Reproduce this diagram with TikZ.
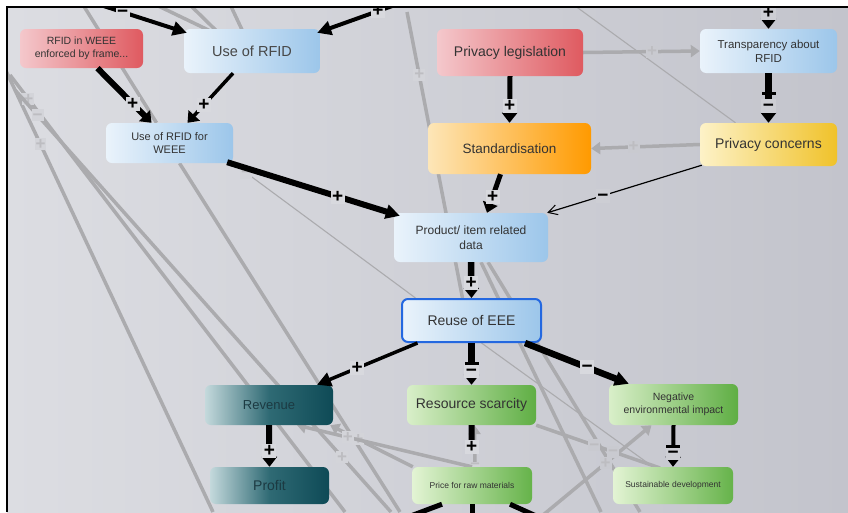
\documentclass[tikz,border=0pt]{standalone}
\usepackage{fontspec}
\setmainfont{Liberation Sans}
\usetikzlibrary{arrows.meta}
\pgfdeclarelayer{back}
\pgfdeclarelayer{lines}
\pgfsetlayers{back,lines,main}
\definecolor{bgL}{HTML}{DCDDE2}
\definecolor{bgR}{HTML}{C3C4CC}
\definecolor{gl}{HTML}{ABABAE}
\definecolor{txt}{HTML}{333333}
\definecolor{rL}{HTML}{F4C8CC}
\definecolor{rR}{HTML}{DF5A60}
\definecolor{bL}{HTML}{EAF3FB}
\definecolor{bR}{HTML}{9CC6EA}
\definecolor{oL}{HTML}{FDE6B8}
\definecolor{oR}{HTML}{FF9A00}
\definecolor{yL}{HTML}{FDF2C8}
\definecolor{yR}{HTML}{F0C22A}
\definecolor{tL}{HTML}{C4D9DC}
\definecolor{tM}{HTML}{2F6A74}
\definecolor{tR}{HTML}{0E4A56}
\definecolor{tT}{HTML}{1C3A42}
\definecolor{gL}{HTML}{D9EFC9}
\definecolor{gR}{HTML}{5FAE44}
\definecolor{hL}{HTML}{E3F4D4}
\definecolor{hR}{HTML}{66B34A}
\definecolor{reB}{HTML}{2468E0}
\definecolor{lf}{HTML}{D8D9DE}
\definecolor{lfR}{HTML}{CDCED4}
\definecolor{glf}{HTML}{D3D4D9}
\definecolor{glfR}{HTML}{C9CAD0}
\definecolor{gt}{HTML}{BDBDC1}
\begin{document}
\begin{tikzpicture}[x=1pt,y=-1pt,
  box/.style={rounded corners=6pt, inner sep=0pt, align=center, text=txt},
  nred/.style={left color=rL, right color=rR},
  nblue/.style={left color=bL, right color=bR},
  norange/.style={left color=oL, right color=oR},
  nyellow/.style={left color=yL, right color=yR},
  nteal/.style={left color=tL, right color=tR, middle color=tM, text=tT},
  ngreen/.style={left color=gL, right color=gR},
  ngreenl/.style={left color=hL, right color=hR},
  conn/.style={line width=#1, black},
  tipb/.style={-{Triangle[width=15pt,length=10pt]}},
  tipd/.style={-{Triangle[width=14pt,length=14pt]}},
  lbl/.style={fill=lf, inner sep=1.5pt, text height=11pt, text depth=0pt, text=black, font=\fontsize{19}{19}\selectfont\bfseries},
  glbl/.style={fill=glf, inner sep=1pt, text height=10pt, text depth=0pt, text=gt, font=\fontsize{17}{17}\selectfont\bfseries},
  gline/.style={gl, line width=3.5pt},
  gthin/.style={gl, line width=1.1pt},
  tipg/.style={-{Triangle[width=12pt,length=9pt]}},
  barmark/.style={fill=black, minimum width=14pt, minimum height=3pt, inner sep=0pt}
]
\useasboundingbox (0,0) rectangle (848,512);

% ---------- nodes ----------
\node[box, nred, minimum width=123pt, minimum height=39pt, font=\fontsize{10.5}{13.5}\selectfont] (rfidw) at (81.5,48.5) {RFID in WEEE\\enforced by frame...};
\node[box, nblue, minimum width=136pt, minimum height=44pt, font=\fontsize{14.5}{16}\selectfont, text=txt!90] (use) at (252,51) {Use of RFID};
\node[box, nred, minimum width=146pt, minimum height=47pt, font=\fontsize{14}{16}\selectfont] (plegis) at (510,52.5) {Privacy legislation};
\node[box, nblue, minimum width=137pt, minimum height=44pt, font=\fontsize{11.5}{14}\selectfont] (transp) at (768.5,51) {Transparency about\\RFID};
\node[box, nblue, minimum width=127pt, minimum height=40pt, font=\fontsize{11}{13.5}\selectfont] (usew) at (169.5,143) {Use of RFID for\\WEEE};
\node[box, norange, minimum width=163pt, minimum height=51pt, font=\fontsize{13.5}{16}\selectfont] (stand) at (509.5,148.5) {Standardisation};
\node[box, nyellow, minimum width=137pt, minimum height=43pt, font=\fontsize{14}{16}\selectfont] (pconc) at (768.5,144.5) {Privacy concerns};
\node[box, nblue, minimum width=154pt, minimum height=49pt, font=\fontsize{12}{15}\selectfont] (prod) at (471,237.5) {Product/ item related\\data};
\node[box, nblue, draw=reB, line width=2pt, minimum width=139pt, minimum height=43pt, font=\fontsize{14}{16}\selectfont] (reuse) at (471.5,320.5) {Reuse of EEE};
\node[box, nteal, minimum width=128pt, minimum height=40pt, font=\fontsize{13}{16}\selectfont] (rev) at (269,405) {Revenue};
\node[box, ngreen, minimum width=129pt, minimum height=40pt, font=\fontsize{14}{16}\selectfont] (res) at (471.5,405) {Resource scarcity};
\node[box, ngreen, minimum width=129pt, minimum height=41pt, font=\fontsize{10.5}{13}\selectfont] (neg) at (673.5,404.5) {Negative\\environmental impact};
\node[box, nteal, minimum width=119pt, minimum height=37pt, font=\fontsize{14}{16}\selectfont] (profit) at (269.5,485.5) {Profit};
\node[box, ngreenl, minimum width=120pt, minimum height=37pt, font=\fontsize{8.5}{10}\selectfont] (price) at (472,485.5) {Price for raw materials};
\node[box, ngreenl, minimum width=120pt, minimum height=37pt, font=\fontsize{8.5}{10}\selectfont] (sust) at (673,485.5) {Sustainable development};

% ---------- free ends ----------
\coordinate (tlin) at (85,0);
\coordinate (trin) at (395,5);
\coordinate (ttop) at (768.5,0);
\coordinate (bl1) at (400,520);
\coordinate (bl2) at (472,530);
\coordinate (bl3) at (545,520);
\coordinate (ga) at (0,58);
\coordinate (gaE) at (213,512);
\coordinate (gb) at (10,75);
\coordinate (gbE) at (345,512);
\coordinate (gc) at (15,90);
\coordinate (gcE) at (391,512);
\coordinate (gdE) at (400,512);
\coordinate (t1) at (80,0);
\coordinate (t2) at (150,2);
\coordinate (t3) at (185,0);
\coordinate (t4) at (228,0);
\coordinate (v1) at (407,12);
\coordinate (v2E) at (601,512);
\coordinate (v3E) at (640,512);
\coordinate (th3) at (567,0);
\coordinate (gn) at (537,520);
\coordinate (grE) at (660,468);

% ---------- background ----------
\begin{pgfonlayer}{back}
\fill[white] (0,0) rectangle (848,512);
\shade[left color=bgL, right color=bgR] (7,7) rectangle (848,512);
\end{pgfonlayer}

% ---------- grey links ----------
\begin{pgfonlayer}{lines}
\begin{scope}
\clip (7,7) rectangle (848,512);
\draw[gline] (ga) -- (gaE) node[glbl,pos=0.19]{+};
\draw[gline] (gb) -- (gbE) node[glbl,pos=0.055]{+};
\draw[gline] (gc) -- (gcE) node[glbl,pos=0.06]{−} node[glbl,pos=0.87]{+};
\draw[gline] ([xshift=10pt]usew.south) -- (gdE);
\draw[gline] (t1) -- ([xshift=-13pt]usew.north);
\draw[gline] (t2) -- (use.center);
\draw[gline] (t3) -- ([xshift=-15pt]use.center);
\draw[gline] (t4) -- (use.center);
\draw[gthin] (usew.south east) -- ([xshift=-56pt]reuse.north) node[glbl,pos=0.07]{−};
\draw[gline] (v1) -- ([xshift=-9pt]reuse.north) node[glbl,pos=0.22]{+};
\draw[gline] ([xshift=10pt]prod.south) -- (v2E);
\draw[gline] ([xshift=17pt]prod.south) -- (v3E);
\draw[gthin] ([xshift=10pt]reuse.south) -- ([xshift=-20pt]sust.north);
\draw[gthin] (th3) -- ([xshift=-33pt]pconc.north);
\draw[gline, tipg] (plegis.east) -- (transp.west) node[glbl,fill=glfR,pos=0.59]{+};
\draw[gline, tipg] (pconc.west) -- (stand.east) node[glbl,fill=glfR,pos=0.61]{+};
\draw[gline, tipg] (gn) -- ([xshift=-22pt]neg.south) node[glbl,fill=glfR,pos=0.6]{+};
\draw[gline] (res.south east) -- (grE) node[glbl,fill=glfR,pos=0.47]{−} node[glbl,fill=glfR,pos=0.62]{−};
\draw[gline, tipg] ([xshift=3pt]price.north) -- ([xshift=3pt]res.south) node[glbl,inner sep=0pt,text height=7pt,pos=0.02]{−};
\draw[gline, tipg] ([xshift=1pt]price.north west) -- ([xshift=-3pt]rev.south east) node[glbl,pos=0.66]{+};
\draw[gline, tipg] (price.north) -- ([xshift=28pt]rev.south) node[glbl,pos=0.71]{+};
\end{scope}
\end{pgfonlayer}

% ---------- black links ----------
\begin{scope}
\clip (7,7) rectangle (848,512);
\draw[conn=4pt, tipd] (tlin) -- ([shift={(3,4)}]use.north west) node[lbl,pos=0.37]{−};
\draw[conn=4pt, tipd] (trin) -- ([shift={(-3,4)}]use.north east) node[lbl,pos=0.22]{+};
\draw[conn=6pt, tipb] ([xshift=16pt]rfidw.south) -- ([xshift=-18pt]usew.north) node[lbl,pos=0.65]{+};
\draw[conn=3.5pt, tipb] ([xshift=-19pt]use.south) -- ([xshift=18pt]usew.north) node[lbl,pos=0.64]{+};
\draw[conn=6pt, tipd] ([shift={(-6,-1)}]usew.south east) -- ([shift={(6,3)}]prod.north west) node[lbl,pos=0.64]{+};
\draw[conn=5pt, tipb] (plegis.south) -- (stand.north) node[lbl,pos=0.63]{+};
\draw[conn=4pt, tipb] (ttop) -- (transp.north) node[lbl,fill=lfR,pos=0.45]{+};
\draw[conn=6.5pt, tipb] (transp.south) -- (pconc.north) node[lbl,fill=lfR,pos=0.66]{−} node[barmark,pos=0.4]{};
\draw[conn=5pt, tipb] ([xshift=-9pt]stand.south) -- ([xshift=16pt]prod.north) node[lbl,pos=0.58]{+};
\draw[conn=1.2pt, -{Straight Barb[length=9pt,width=10pt,line width=1pt]}] ([shift={(2,-1)}]pconc.south west) -- ([shift={(-1,0)}]prod.north east) node[lbl,fill=lfR,pos=0.64]{−};
\draw[conn=6.5pt, tipb] (prod.south) -- (reuse.north) node[lbl,pos=0.58]{+};
\draw[conn=3.5pt, tipd] ([xshift=-54pt]reuse.south) -- ([xshift=48pt]rev.north) node[lbl,pos=0.6]{+};
\draw[conn=6.5pt, tipb] (reuse.south) -- (res.north) node[lbl,pos=0.67]{−} node[barmark,pos=0.5]{};
\draw[conn=6.5pt, tipd] ([xshift=-17pt]reuse.south east) -- ([xshift=20pt]neg.north west) node[lbl,pos=0.6]{−};
\draw[conn=6pt, tipb] (rev.south) -- (profit.north) node[lbl,pos=0.63]{+};
\draw[conn=6pt, shorten >=18pt] (res.south) -- (price.north) node[lbl,pos=0.53]{+};
\draw[conn=4pt, tipb] (neg.south) -- (sust.north) node[lbl,fill=lfR,pos=0.67]{−} node[barmark,pos=0.5]{};
\draw[conn=5pt] ([xshift=-30pt]price.south) -- (bl1);
\draw[conn=5pt] (price.south) -- (bl2);
\draw[conn=5pt] ([xshift=38pt]price.south) -- (bl3);
\end{scope}

\draw[line width=1.3pt] (7,512) -- (7,7) -- (848,7);
\end{tikzpicture}
\end{document}
